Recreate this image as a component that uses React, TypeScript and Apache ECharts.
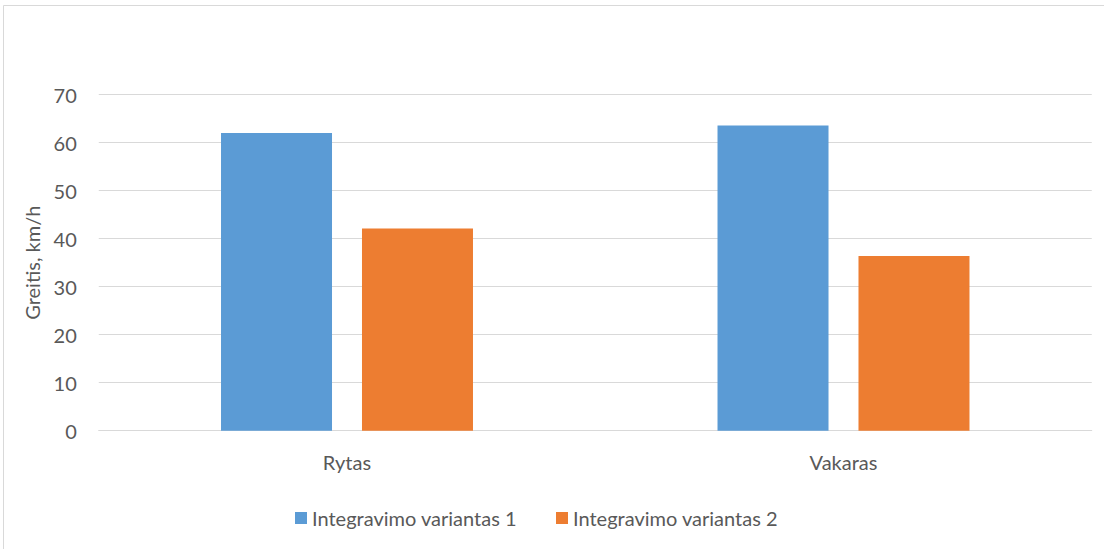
import React, { useEffect, useRef } from "react";
import * as echarts from "echarts";

const categories = ["Rytas", "Vakaras"];
const seriesNames = ["Integravimo variantas 1", "Integravimo variantas 2"];
const variant1 = [62.0, 63.6];
const variant2 = [42.1, 36.4];
const yTicks = { min: 0, max: 70, interval: 10 };
const yAxisTitle = "Greitis, km/h";

const FONT = "Lato";
const TEXT = "#595959";
const GRID = "#d9d9d9";
const FS = 20;

export default function App() {
  const ref = useRef<HTMLDivElement>(null);
  useEffect(() => {
    if (!ref.current) return;
    const chart = echarts.init(ref.current, undefined, { renderer: "svg" });
    chart.setOption({
      animation: false,
      backgroundColor: "#ffffff",
      textStyle: { fontFamily: FONT, color: TEXT },
      graphic: [
        {
          type: "rect",
          silent: true,
          shape: { x: 3.5, y: 5.5, width: 1300, height: 1000 },
          style: { fill: "none", stroke: GRID, lineWidth: 1 },
        },
      ],
      grid: { left: 98.75, right: 12.25, top: 94.7, bottom: 118.3 },
      legend: {
        left: 290,
        top: 503,
        itemWidth: 12,
        itemHeight: 12,
        itemGap: 39,
        icon: "rect",
        textStyle: { fontFamily: FONT, fontSize: FS, color: TEXT },
        data: seriesNames,
      },
      xAxis: {
        type: "category",
        data: categories,
        axisLine: { lineStyle: { color: GRID, width: 1 } },
        axisTick: { show: false },
        axisLabel: { fontFamily: FONT, fontSize: FS, color: TEXT, margin: 21 },
      },
      yAxis: {
        type: "value",
        min: yTicks.min,
        max: yTicks.max,
        interval: yTicks.interval,
        name: yAxisTitle,
        nameLocation: "middle",
        nameGap: 57,
        nameTextStyle: { fontFamily: FONT, fontSize: FS, color: TEXT },
        axisLine: { show: false },
        axisTick: { show: false },
        axisLabel: { fontFamily: FONT, fontSize: FS, color: TEXT, margin: 22 },
        splitLine: { lineStyle: { color: GRID, width: 1 } },
      },
      series: [
        {
          name: seriesNames[0],
          type: "bar",
          data: variant1,
          barWidth: 111,
          barGap: "27%",
          itemStyle: { color: "#5b9bd5" },
        },
        {
          name: seriesNames[1],
          type: "bar",
          data: variant2,
          barWidth: 111,
          barGap: "27%",
          itemStyle: { color: "#ed7d31" },
        },
      ],
    });
    return () => chart.dispose();
  }, []);
  return (
    <div
      ref={ref}
      style={{ position: "fixed", left: 0, top: 0, width: 1104, height: 549 }}
    />
  );
}
